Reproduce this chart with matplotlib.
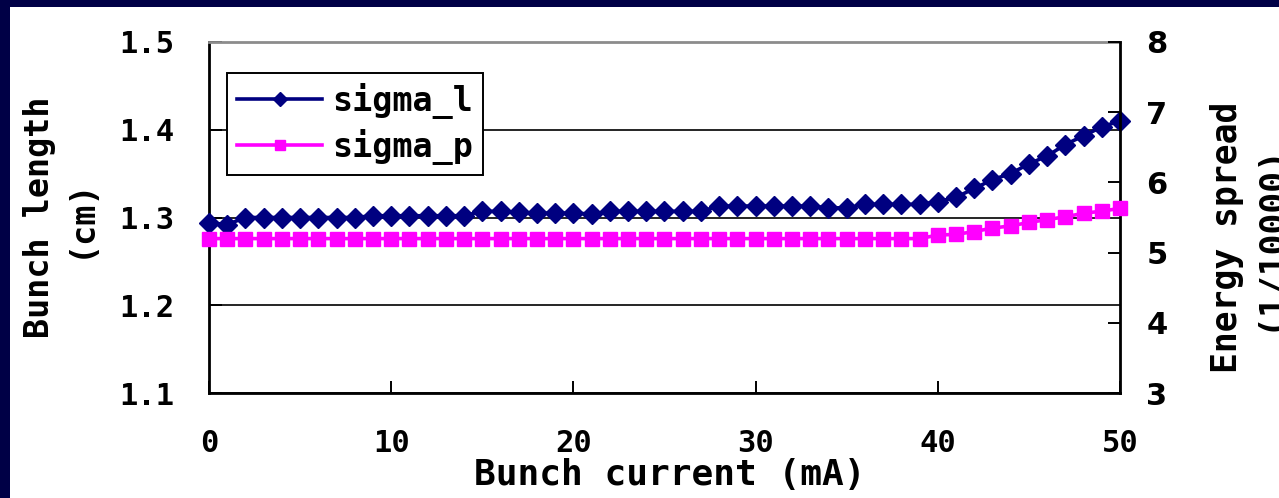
import numpy as np
import matplotlib
matplotlib.use("Agg")
import matplotlib.pyplot as plt
from matplotlib.patches import Rectangle

# bunch current (mA)
current = list(range(0, 51))

# bunch length sigma_l (cm), left axis
sigma_l = [1.294, 1.292, 1.300, 1.300, 1.300, 1.300, 1.300, 1.300, 1.300, 1.302,
           1.302, 1.302, 1.302, 1.302, 1.302, 1.307, 1.307, 1.306, 1.305, 1.305,
           1.305, 1.304, 1.307, 1.307, 1.307, 1.307, 1.307, 1.307, 1.313, 1.313,
           1.313, 1.313, 1.313, 1.313, 1.311, 1.311, 1.315, 1.315, 1.315, 1.315,
           1.318, 1.323, 1.333, 1.343, 1.350, 1.361, 1.370, 1.383, 1.393, 1.403,
           1.410]

# energy spread sigma_p (1/10000), right axis
sigma_p = [5.20] * 40 + [5.25, 5.26, 5.30, 5.35, 5.38, 5.43, 5.47, 5.51, 5.56, 5.59, 5.63]

xticks = [0, 10, 20, 30, 40, 50]
yticks_l = [1.1, 1.2, 1.3, 1.4, 1.5]
yticks_r = [3, 4, 5, 6, 7, 8]

navy = '#000080'
pink = '#FF00FF'
font = 'DejaVu Sans Mono'

fig = plt.figure(figsize=(12.79, 4.98), dpi=100, facecolor='white')
# dark slide border along top and left edge
fig.add_artist(Rectangle((0, 1 - 7 / 498), 1, 7 / 498, transform=fig.transFigure,
                         facecolor='#000046', edgecolor='none', zorder=0))
fig.add_artist(Rectangle((0, 0), 10 / 1279, 1, transform=fig.transFigure,
                         facecolor='#000046', edgecolor='none', zorder=0))

ax = fig.add_axes([209 / 1279, 1 - 393.3 / 498, 911 / 1279, 351.6 / 498])
ax2 = ax.twinx()

l1, = ax.plot(current, sigma_l, color=navy, lw=2.6, marker='D', ms=10,
              mec=navy, mfc=navy, label='sigma_l', zorder=3, clip_on=False)
l2, = ax2.plot(current, sigma_p, color=pink, lw=2.6, marker='s', ms=9.5,
               mec=pink, mfc=pink, label='sigma_p', zorder=3, clip_on=False)

ax.set_xlim(0, 50)
ax.set_ylim(1.1, 1.5)
ax2.set_ylim(3, 8)
ax.set_xticks(xticks)
ax.set_yticks(yticks_l)
ax.set_yticklabels(['%.1f' % v for v in yticks_l])
ax2.set_yticks(yticks_r)
ax2.set_yticklabels([str(v) for v in yticks_r])

ax.grid(axis='y', color='black', lw=1.2, zorder=1)
ax.set_axisbelow(True)

for s in ['left', 'bottom']:
    ax.spines[s].set_linewidth(2)
    ax.spines[s].set_color('black')
ax.spines['top'].set_color('#8c8c8c')
ax.spines['top'].set_linewidth(2)
ax.spines['right'].set_visible(False)
for s in ['left', 'bottom', 'top']:
    ax2.spines[s].set_visible(False)
ax2.spines['right'].set_linewidth(2)
ax2.spines['right'].set_color('black')

tick_font = dict(fontfamily=font, fontweight='bold', fontsize=22)
ax.tick_params(axis='x', direction='in', length=9, width=1.4, pad=26, top=False)
ax.tick_params(axis='y', direction='in', length=9, width=1.4, pad=25)
ax2.tick_params(axis='y', direction='in', length=9, width=1.4, pad=19)
for lab in ax.get_xticklabels() + ax.get_yticklabels():
    lab.set(**tick_font)
for lab in ax2.get_yticklabels():
    lab.set(fontfamily='DejaVu Sans', fontweight='bold', fontsize=22)

ax.set_xlabel('Bunch current (mA)', fontfamily=font, fontweight='bold', fontsize=26)
ax.xaxis.set_label_coords(0.506, -0.185)
ax.set_ylabel('Bunch length\n(cm)', fontfamily=font, fontweight='bold', fontsize=24,
              linespacing=1.3, multialignment='center')
ax.yaxis.set_label_coords(-0.123, 0.5)
ax2.set_ylabel('Energy spread\n(1/10000)', fontfamily=font, fontweight='bold', fontsize=25,
               linespacing=1.3, multialignment='center')
ax2.yaxis.set_label_coords(1.099, 0.445)

leg = ax2.legend(handles=[l1, l2], loc='upper left', bbox_to_anchor=(0.0198, 0.912),
                 borderaxespad=0, fancybox=False, framealpha=1, edgecolor='black',
                 prop=dict(family=font, weight='bold', size=24), handlelength=2.55,
                 handletextpad=0.3, labelspacing=0.3, borderpad=0.3,
                 markerscale=0.75)
leg.get_frame().set_linewidth(1.4)

fig.savefig('out.png', dpi=100, facecolor=fig.get_facecolor())
